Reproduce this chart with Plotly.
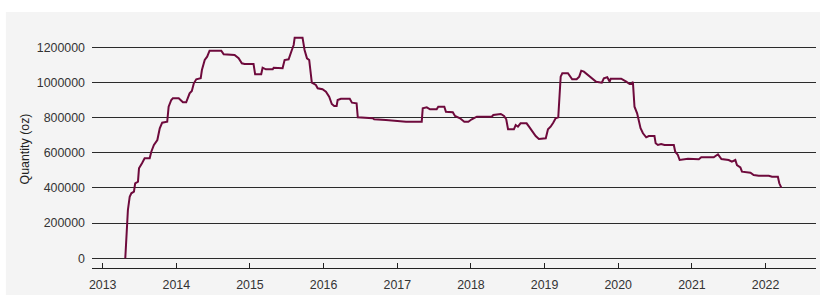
import plotly.graph_objects as go

dates = [
    "2013-04-23", "2013-04-28", "2013-05-06", "2013-05-15", "2013-05-23", "2013-06-05",
    "2013-06-11", "2013-06-25", "2013-06-30", "2013-07-15", "2013-07-28", "2013-08-22",
    "2013-08-30", "2013-09-12", "2013-09-29", "2013-10-11", "2013-10-23", "2013-11-17",
    "2013-11-24", "2013-12-07", "2013-12-15", "2014-01-13", "2014-02-03", "2014-02-19",
    "2014-03-08", "2014-03-19", "2014-03-29", "2014-04-10", "2014-05-02", "2014-05-08",
    "2014-05-22", "2014-06-03", "2014-06-15", "2014-08-12", "2014-08-24", "2014-10-17",
    "2014-11-06", "2014-11-22", "2014-12-06", "2015-01-19", "2015-01-27", "2015-02-26",
    "2015-03-05", "2015-03-21", "2015-04-24", "2015-04-29", "2015-06-12", "2015-06-22",
    "2015-07-12", "2015-07-28", "2015-08-06", "2015-08-11", "2015-09-19", "2015-09-29",
    "2015-10-11", "2015-10-22", "2015-11-01", "2015-11-04", "2015-11-24", "2015-12-03",
    "2015-12-27", "2016-01-13", "2016-01-29", "2016-02-11", "2016-02-23", "2016-03-06",
    "2016-03-11", "2016-03-27", "2016-05-10", "2016-05-21", "2016-06-13", "2016-06-19",
    "2016-09-01", "2016-09-08", "2016-11-05", "2017-01-11", "2017-02-13", "2017-05-02",
    "2017-05-07", "2017-05-27", "2017-06-12", "2017-07-15", "2017-07-23", "2017-08-22",
    "2017-08-30", "2017-10-03", "2017-10-14", "2017-11-08", "2017-11-29", "2017-12-19",
    "2018-01-05", "2018-01-30", "2018-04-14", "2018-04-22", "2018-05-29", "2018-06-14",
    "2018-06-25", "2018-07-04", "2018-08-02", "2018-08-11", "2018-08-22", "2018-09-04",
    "2018-10-04", "2018-10-16", "2018-11-01", "2018-11-18", "2018-12-04", "2019-01-07",
    "2019-01-18", "2019-01-31", "2019-02-13", "2019-02-25", "2019-03-10", "2019-03-22",
    "2019-03-30", "2019-04-27", "2019-05-18", "2019-06-09", "2019-06-22", "2019-07-02",
    "2019-07-15", "2019-08-04", "2019-08-22", "2019-09-14", "2019-10-12", "2019-10-22",
    "2019-11-08", "2019-11-20", "2019-11-25", "2020-01-16", "2020-02-10", "2020-02-27",
    "2020-03-09", "2020-03-14", "2020-03-22", "2020-04-04", "2020-04-21", "2020-05-03",
    "2020-05-19", "2020-06-01", "2020-06-29", "2020-07-05", "2020-07-16", "2020-08-01",
    "2020-08-18", "2020-10-03", "2020-10-10", "2020-10-23", "2020-11-01", "2020-11-17",
    "2020-12-12", "2021-02-04", "2021-02-16", "2021-04-19", "2021-05-10", "2021-05-27",
    "2021-07-02", "2021-07-18", "2021-08-04", "2021-08-12", "2021-08-29", "2021-09-06",
    "2021-10-18", "2021-11-03", "2021-11-28", "2022-01-17", "2022-02-02", "2022-03-03",
    "2022-03-10", "2022-03-20",
]

quantity_oz = [
    0, 122800, 274700, 350300, 369700, 378800,
    426500, 435600, 511800, 540300, 568700, 568700,
    606200, 644300, 672800, 739300, 771200, 776800,
    862100, 900300, 909900, 909900, 887200, 887200,
    938400, 951400, 995200, 1018000, 1023700, 1070900,
    1127700, 1146500, 1180600, 1180600, 1160100, 1156200,
    1137400, 1109000, 1105000, 1105000, 1046400, 1046400,
    1084000, 1074800, 1074800, 1084000, 1080500, 1127700,
    1131700, 1184600, 1213000, 1254600, 1254600, 1184600,
    1137400, 1127700, 1032800, 998600, 985600, 966800,
    961100, 947500, 919000, 877500, 866100, 866100,
    900300, 907600, 907600, 884900, 881500, 801900,
    796200, 790500, 786500, 782500, 776800, 776800,
    853000, 858700, 847400, 847400, 862100, 862100,
    833700, 830300, 809300, 796200, 776800, 776800,
    790500, 805300, 805300, 815000, 820600, 809300,
    790500, 733600, 733600, 758100, 748400, 767700,
    767700, 748400, 720000, 695500, 678500, 682400,
    733600, 748400, 771200, 796200, 801900, 1032800,
    1052100, 1052100, 1018000, 1018000, 1032800, 1066900,
    1061200, 1042400, 1023700, 1004300, 998600, 1023700,
    1029300, 1004300, 1021400, 1021400, 1004300, 991200,
    991200, 1004300, 862100, 824600, 739300, 710900,
    688100, 695500, 695500, 654000, 644300, 650000,
    644300, 644300, 606200, 587500, 559000, 563000,
    566400, 563000, 574400, 574400, 591400, 564700,
    559000, 549400, 559000, 530600, 517500, 492500,
    486800, 473700, 469700, 469700, 464100, 464100,
    426500, 401500,
]

year_ticks = ["2013", "2014", "2015", "2016", "2017", "2018", "2019", "2020", "2021", "2022"]
y_ticks = [0, 200000, 400000, 600000, 800000, 1000000, 1200000]

FONT = "Liberation Sans, Arial, Helvetica, sans-serif"
TXT = "#333333"

fig = go.Figure()
fig.add_trace(go.Scatter(
    x=dates, y=quantity_oz, mode="lines",
    line=dict(color="#6e0a3c", width=2),
    hoverinfo="x+y", showlegend=False,
))

fig.update_layout(
    width=820, height=295,
    margin=dict(l=92, r=4, t=30, b=27),
    paper_bgcolor="white",
    plot_bgcolor="rgba(0,0,0,0)",
    font=dict(family=FONT, size=12.4, color=TXT),
    shapes=[dict(
        type="rect", xref="paper", yref="paper",
        x0=-0.119, x1=1.01, y0=-0.12, y1=1.076,
        fillcolor="#f4f4f4", line=dict(width=0), layer="below",
    )],
)

fig.update_xaxes(
    type="date",
    range=["2012-11-09", "2022-09-08"],
    tickmode="array",
    tickvals=[f"{y}-01-01" for y in year_ticks],
    ticktext=year_ticks,
    showgrid=False, zeroline=False,
    showline=True, linecolor="#222222", linewidth=1,
    ticks="inside", ticklen=5, tickcolor="#222222", tickwidth=1,
    ticklabelstandoff=5,
    tickfont=dict(size=12.4, color=TXT),
)

fig.update_yaxes(
    range=[-55200, 1298300],
    tickmode="array",
    tickvals=y_ticks,
    ticktext=[str(v) for v in y_ticks],
    showgrid=True, gridcolor="#2a2a2a", gridwidth=1,
    zeroline=False, showline=False,
    ticks="", ticklabelstandoff=6,
    title=dict(text="Quantity (oz)", font=dict(size=12.4, color="#222222"), standoff=4),
    tickfont=dict(size=12.4, color=TXT),
)

fig.write_html(
    "out.html",
    config={"displayModeBar": False},
    post_script="document.body.style.margin='0px';",
)
